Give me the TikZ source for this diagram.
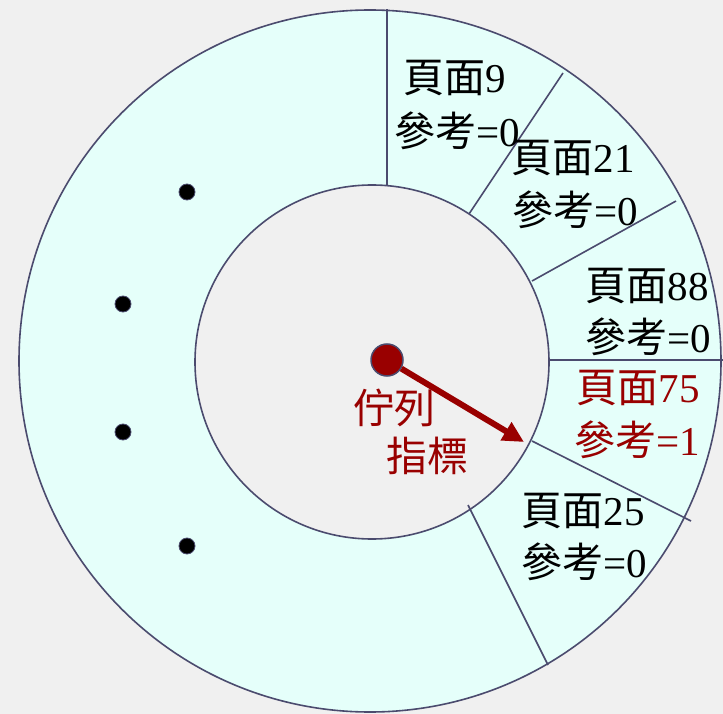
\documentclass[tikz,border=0pt]{standalone}
\usepackage{fontspec}
\setmainfont{Liberation Serif}
\newfontfamily\cjk{Noto Sans CJK TC}
\usetikzlibrary{arrows.meta}
\definecolor{bg}{RGB}{240,240,240}
\definecolor{ring}{RGB}{229,255,250}
\definecolor{edge}{RGB}{75,75,110}
\definecolor{dred}{RGB}{153,0,0}
\tikzset{
  lbl/.style={font=\fontsize{41}{49}\selectfont, inner sep=0pt},
  redlbl/.style={lbl, text=dred},
  ringline/.style={draw=edge, line width=1.6pt},
  dotnode/.style={circle, fill=black, draw=edge, line width=0.8pt, minimum size=16pt, inner sep=0pt},
  ptrnode/.style={circle, fill=dred, draw=edge, line width=1.5pt, minimum size=32pt, inner sep=0pt}
}
\begin{document}
\begin{tikzpicture}[x=1pt, y=-1pt]
\fill[bg] (0,0) rectangle (723,714);
\useasboundingbox (0,0) rectangle (723,714);
% ring
\fill[ring, even odd rule] (370,361) circle[radius=351pt] (372,362) circle[radius=177pt];
\draw[ringline] (370,361) circle[radius=351pt];
\draw[ringline] (372,362) circle[radius=177pt];
% radial separators
\coordinate (a1) at (387,9);   \coordinate (b1) at (387,186);
\coordinate (a2) at (563,73);  \coordinate (b2) at (469,214);
\coordinate (a3) at (676,201); \coordinate (b3) at (532,281);
\coordinate (a4) at (723,360); \coordinate (b4) at (548,360);
\coordinate (a5) at (691,521); \coordinate (b5) at (532,441);
\coordinate (a6) at (548,665); \coordinate (b6) at (468,505);
\foreach \i in {1,...,6} \draw[ringline] (b\i) -- (a\i);
% labels
\node[lbl] (p9)  at (455,78)  {{\cjk 頁面}9};
\node[lbl] (r9)  at (457,131) {{\cjk 參考}=0};
\node[lbl] (p21) at (573,158) {{\cjk 頁面}21};
\node[lbl] (r21) at (575,210) {{\cjk 參考}=0};
\node[lbl] (p88) at (647,286) {{\cjk 頁面}88};
\node[lbl] (r88) at (648,337) {{\cjk 參考}=0};
\node[redlbl] (p75) at (638,388) {{\cjk 頁面}75};
\node[redlbl] (r75) at (637,440) {{\cjk 參考}=1};
\node[lbl] (p25) at (583,511) {{\cjk 頁面}25};
\node[lbl] (r25) at (584,562) {{\cjk 參考}=0};
% dots
\node[dotnode] (d1) at (187,192) {};
\node[dotnode] (d2) at (123,304) {};
\node[dotnode] (d3) at (123,432) {};
\node[dotnode] (d4) at (187,546) {};
% pointer
\node[ptrnode] (ptr) at (387,360) {};
\coordinate (tip) at (524,442);
\draw[dred, line width=6pt, -{Triangle[length=21pt,width=20pt]}] (ptr) -- (tip);
\node[redlbl] (q1) at (394,408) {\cjk 佇列};
\node[redlbl] (q2) at (427,456) {\cjk 指標};
\end{tikzpicture}
\end{document}
